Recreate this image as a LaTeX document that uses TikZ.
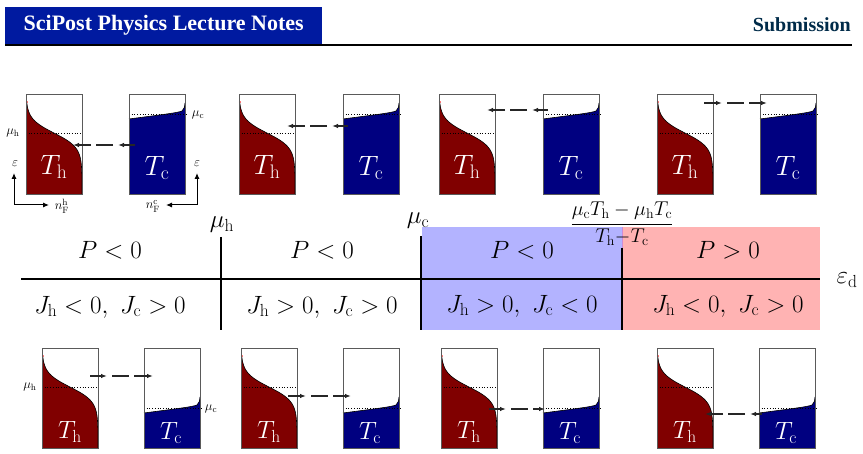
\RequirePackage{fix-cm}
\documentclass[tikz,border=0pt]{standalone}
\usepackage{fontspec}
\usetikzlibrary{arrows.meta}
\newfontfamily\headfont{Liberation Serif}
\definecolor{hotred}{RGB}{128,0,0}
\definecolor{coldblue}{RGB}{0,0,128}
\definecolor{hdrblue}{RGB}{0,26,160}
\definecolor{submcol}{RGB}{0,43,73}
\definecolor{regblue}{RGB}{179,179,255}
\definecolor{regred}{RGB}{255,179,179}
\definecolor{framegray}{RGB}{90,90,90}
\definecolor{seamcol}{RGB}{205,140,215}
\begin{document}
\begin{tikzpicture}[x=1pt,y=-1pt,
  boxframe/.style={draw=framegray, line width=1.1pt, minimum width=56pt, minimum height=100pt, inner sep=0pt, anchor=north west},
  tlabel/.style={text=white, inner sep=0pt},
  midlab/.style={font=\fontsize{25}{28}\selectfont, inner sep=0pt},
  smalllab/.style={font=\fontsize{13}{15}\selectfont, inner sep=0pt},
  mudot/.style={dotted, line width=0.7pt},
  fdcurve/.style={line width=0.6pt, draw=black},
  flowtip/.style={-{Latex[length=6pt,width=4.5pt]}, line width=1.3pt, draw=black!85},
  flowdash/.style={flowtip, dash pattern=on 17pt off 5pt, dash phase=17pt},
  axisarrow/.style={-{Latex[length=6pt,width=5pt]}, line width=1pt},
  vline/.style={line width=1.8pt},
]
\useasboundingbox (0,0) rectangle (863,454);
% header
\node[fill=hdrblue, minimum width=317pt, minimum height=37pt, inner sep=0pt, anchor=north west] (hdrbox) at (5,7) {};
\node[text=white, font=\headfont\bfseries\fontsize{22}{24}\selectfont, inner sep=0pt] (hdrtitle) at (hdrbox.center) {SciPost Physics Lecture Notes};
\node[text=submcol, font=\headfont\bfseries\fontsize{20}{24}\selectfont, inner sep=0pt, anchor=east] (hdrsub) at (851,25) {Submission};
\coordinate (rulel) at (5,45);
\coordinate (ruler) at (852,45);
\draw[line width=2pt] (rulel) -- (ruler);

% middle regions
\fill[regblue] (422,227) rectangle (622,330);
\fill[regred] (622,227) rectangle (820,330);
\draw[line width=0.7pt, draw=seamcol] (622,227) -- (622,248);
\coordinate (axl) at (21,279);
\coordinate (axr) at (820,279);
\draw[line width=1.6pt] (axl) -- (axr);
\coordinate (vha) at (221,237); \coordinate (vhb) at (221,330);
\coordinate (vca) at (421,236); \coordinate (vcb) at (421,330);
\coordinate (vxa) at (622,248); \coordinate (vxb) at (622,330);
\draw[vline] (vha) -- (vhb);
\draw[vline] (vca) -- (vcb);
\draw[vline] (vxa) -- (vxb);
\node[midlab] (muhlab) at (222,225) {$\mu_\mathrm{h}$};
\node[midlab] (muclab) at (418,221) {$\mu_\mathrm{c}$};
\node[font=\fontsize{20}{22}\selectfont, inner sep=0pt, anchor=base] (fraclab) at (622,229) {$\displaystyle\frac{\mu_\mathrm{c}T_\mathrm{h}-\mu_\mathrm{h}T_\mathrm{c}}{T_\mathrm{h}{-}T_\mathrm{c}}$};
\node[midlab] (epslab) at (847,280) {$\varepsilon_\mathrm{d}$};
\node[midlab] (p1) at (110,250) {$P<0$};
\node[midlab] (p2) at (322,250) {$P<0$};
\node[midlab] (p3) at (522,250) {$P<0$};
\node[midlab] (p4) at (728,250) {$P>0$};
\node[midlab] (j1) at (110,307) {$J_\mathrm{h}<0,~J_\mathrm{c}>0$};
\node[midlab] (j2) at (322,307) {$J_\mathrm{h}>0,~J_\mathrm{c}>0$};
\node[midlab] (j3) at (522,306) {$J_\mathrm{h}>0,~J_\mathrm{c}<0$};
\node[midlab] (j4) at (728,306) {$J_\mathrm{h}<0,~J_\mathrm{c}>0$};

% top row panels
\foreach \i/\hx/\cx in {1/26/129,2/239/343,3/439/543,4/657/760}{
  \fill[hotred] (\hx,102) -- plot[domain=8:100,samples=80,variable=\t] ({\hx+56/(1+exp(-(\t-39)/7.2))},{94+\t}) -- (\hx,194) -- cycle;
  \draw[fdcurve] plot[domain=8:100,samples=80,variable=\t] ({\hx+56/(1+exp(-(\t-39)/7.2))},{94+\t});
  \fill[red] (\hx+0.8,102) circle (1pt);
  \fill[coldblue] (\cx,194) -- (\cx,119) .. controls (\cx+30,115) and (\cx+48,113) .. (\cx+53,111) .. controls (\cx+55.5,109) and (\cx+56,106) .. (\cx+56,103) -- (\cx+56,194) -- cycle;
  \draw[fdcurve] (\cx,119) .. controls (\cx+30,115) and (\cx+48,113) .. (\cx+53,111) .. controls (\cx+55.5,109) and (\cx+56,106) .. (\cx+56,103);
  \draw[mudot] (\hx,133) -- (\hx+56,133);
  \draw[mudot] (\cx,114) -- (\cx+58,114);
  \node[boxframe] (th\i) at (\hx,94) {};
  \node[boxframe] (tc\i) at (\cx,94) {};
  \node[tlabel, font=\fontsize{28}{30}\selectfont] (thl\i) at (\hx+28,167) {$T_\mathrm{h}$};
  \node[tlabel, font=\fontsize{28}{30}\selectfont] (tcl\i) at (\cx+28,168) {$T_\mathrm{c}$};
}
% bottom row panels
\foreach \i/\hx/\cx in {1/42/144,2/241/343,3/441/543,4/657/759}{
  \fill[hotred] (\hx,356) -- plot[domain=8:100,samples=80,variable=\t] ({\hx+56/(1+exp(-(\t-39)/7.2))},{348+\t}) -- (\hx,448) -- cycle;
  \draw[fdcurve] plot[domain=8:100,samples=80,variable=\t] ({\hx+56/(1+exp(-(\t-39)/7.2))},{348+\t});
  \fill[red] (\hx+0.8,356) circle (1pt);
  \fill[coldblue] (\cx,448) -- (\cx,413) .. controls (\cx+30,409) and (\cx+48,407) .. (\cx+53,405) .. controls (\cx+55.5,403) and (\cx+56,400) .. (\cx+56,397) -- (\cx+56,448) -- cycle;
  \draw[fdcurve] (\cx,413) .. controls (\cx+30,409) and (\cx+48,407) .. (\cx+53,405) .. controls (\cx+55.5,403) and (\cx+56,400) .. (\cx+56,397);
  \draw[mudot] (\hx,387) -- (\hx+56,387);
  \draw[mudot] (\cx,408) -- (\cx+58,408);
  \node[boxframe] (bh\i) at (\hx,348) {};
  \node[boxframe] (bc\i) at (\cx,348) {};
  \node[tlabel, font=\fontsize{25}{28}\selectfont] (bhl\i) at (\hx+28,432) {$T_\mathrm{h}$};
  \node[tlabel, font=\fontsize{25}{28}\selectfont] (bcl\i) at (\cx+27,433) {$T_\mathrm{c}$};
}

% flow arrows
\foreach \n/\y/\s/\m/\e in {t1/145/135/118/73, t2/126/348/332/287, t3/110/548/532/487, t4/103/704/722/767,
                            b1/376/90/107/153, b2/396/288/306/351, b3/409/489/506/545, b4/414/762/750/705}{
  \coordinate (\n s) at (\s,\y);
  \coordinate (\n m) at (\m,\y);
  \coordinate (\n e) at (\e,\y);
  \draw[flowtip] (\n s) -- (\n m);
  \draw[flowdash] (\n m) -- (\n e);
}

% small labels, top-left panel
\node[smalllab] (tmuh) at (13,133) {$\mu_\mathrm{h}$};
\node[smalllab] (tmuc) at (198,115) {$\mu_\mathrm{c}$};
\coordinate (icoa) at (14,205); \coordinate (icoau) at (14,173); \coordinate (icoar) at (49,205);
\draw[axisarrow] (icoa) -- (icoau);
\draw[axisarrow] (icoa) -- (icoar);
\node[smalllab] (icoaeps) at (15,164) {$\varepsilon$};
\node[smalllab] (icoan) at (62,206) {$n_\mathrm{F}^\mathrm{h}$};
\coordinate (icob) at (197,205); \coordinate (icobu) at (197,173); \coordinate (icobl) at (166,205);
\draw[axisarrow] (icob) -- (icobu);
\draw[axisarrow] (icob) -- (icobl);
\node[smalllab] (icobeps) at (197,164) {$\varepsilon$};
\node[smalllab] (icobn) at (153,206) {$n_\mathrm{F}^\mathrm{c}$};
% small labels, bottom-left panel
\node[smalllab] (bmuh) at (30,387) {$\mu_\mathrm{h}$};
\node[smalllab] (bmuc) at (211,409) {$\mu_\mathrm{c}$};
\end{tikzpicture}
\end{document}
